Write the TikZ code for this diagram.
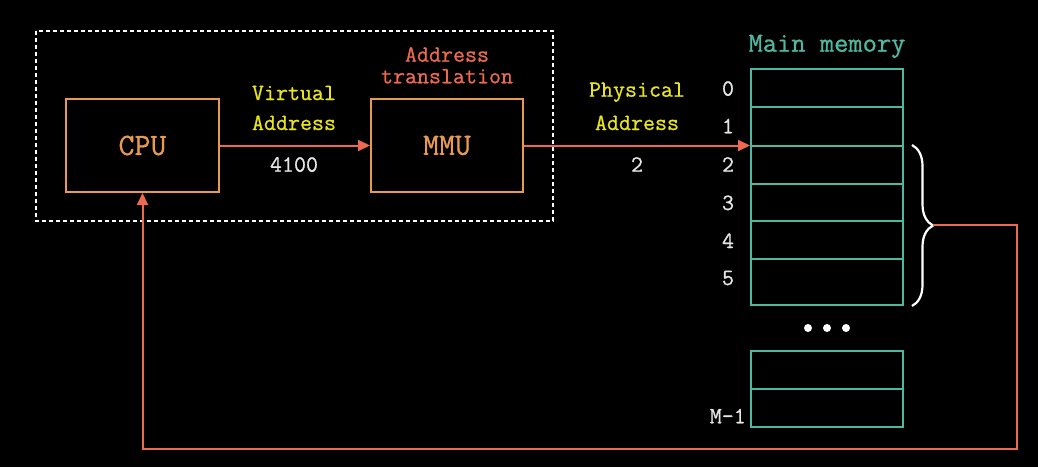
\documentclass[tikz,border=0pt]{standalone}
\usepackage{fontspec}
\setmonofont{Latin Modern Mono}[FakeBold=0.8]
\usepackage{tikz}
\usetikzlibrary{arrows.meta,decorations.pathreplacing}
\definecolor{cpuorange}{HTML}{E89A50}
\definecolor{linkred}{HTML}{EE6A4E}
\definecolor{tagyellow}{HTML}{E8E41E}
\definecolor{memteal}{HTML}{4FB8A0}
\definecolor{numwhite}{HTML}{E6E6E6}

\begin{document}
\begin{tikzpicture}[x=1pt,y=-1pt,
	unit/.style={draw=cpuorange,line width=2pt,minimum height=93pt,text=cpuorange,font=\fontsize{31}{31}\selectfont\ttfamily},
	cell/.style={draw=memteal,line width=2pt,minimum width=152pt,inner sep=0pt},
	tag/.style={anchor=base,inner sep=0pt,font=\fontsize{23.3}{24}\selectfont\ttfamily},
	link/.style={draw=linkred,line width=2pt,-{Triangle[length=12pt,width=11pt]}}]
		\fill[black] (0,0) rectangle (1038,467);
		\useasboundingbox (0,0) rectangle (1038,467);
		% translation unit
		\draw[white,line width=1.8pt,dash pattern=on 4pt off 3pt] (36,31) rectangle (553,221);
		\node[unit,minimum width=153pt] (cpu) at (142.5,145.5) {CPU};
		\node[unit,minimum width=152pt] (mmu) at (447,145.5) {MMU};
		\node[tag,text=linkred] (tr1) at (447,61.7) {Address};
		\node[tag,text=linkred] (tr2) at (447,83.3) {translation};
		% memory
		\node[tag,text=memteal,font=\fontsize{27.7}{28}\selectfont\ttfamily] (mainmem) at (827,51.7) {Main memory};
		\foreach \i/\top/\bot/\base in {0/69/107/95.7,1/107/146/133.3,2/146/184/171.7,3/184/221/210,4/221/259/248,5/259/305/285}{
			\node[cell,minimum height={\bot-\top}] (m\i) at (827,{(\top+\bot)/2}) {};
			\node[tag,text=numwhite] (n\i) at (728,\base) {\i};
		}
		\foreach \x in {808,827,846}
			\fill[white] (\x,328) circle (4pt);
		\node[cell,minimum height=38pt] (ma) at (827,370) {};
		\node[cell,minimum height=38pt] (mb) at (827,408) {};
		\node[tag,text=numwhite,anchor=base east] (nlast) at (746,423.3) {M-1};
		% addresses
		\node[tag,text=tagyellow] (va1) at (294,100) {Virtual};
		\node[tag,text=tagyellow] (va2) at (294,130) {Address};
		\node[tag,text=numwhite] (vnum) at (294,171.7) {4100};
		\node[tag,text=tagyellow] (pa1) at (637,96.7) {Physical};
		\node[tag,text=tagyellow] (pa2) at (637,130) {Address};
		\node[tag,text=numwhite] (pnum) at (637,171.7) {2};
		\draw[link] (cpu.east) -- (mmu.west);
		\draw[link] (mmu.east) -- (mmu.east -| m2.west);
		% block goes back to the cpu
		\draw[white,line width=2.2pt,decorate,decoration={brace,amplitude=21pt}] ([xshift=8pt]m2.north east) -- ([xshift=8pt]m5.south east);
		\coordinate (tip) at (933,225);
		\draw[link] (tip) -| (1017,449) -| (cpu.south);
	\end{tikzpicture}
\end{document}
